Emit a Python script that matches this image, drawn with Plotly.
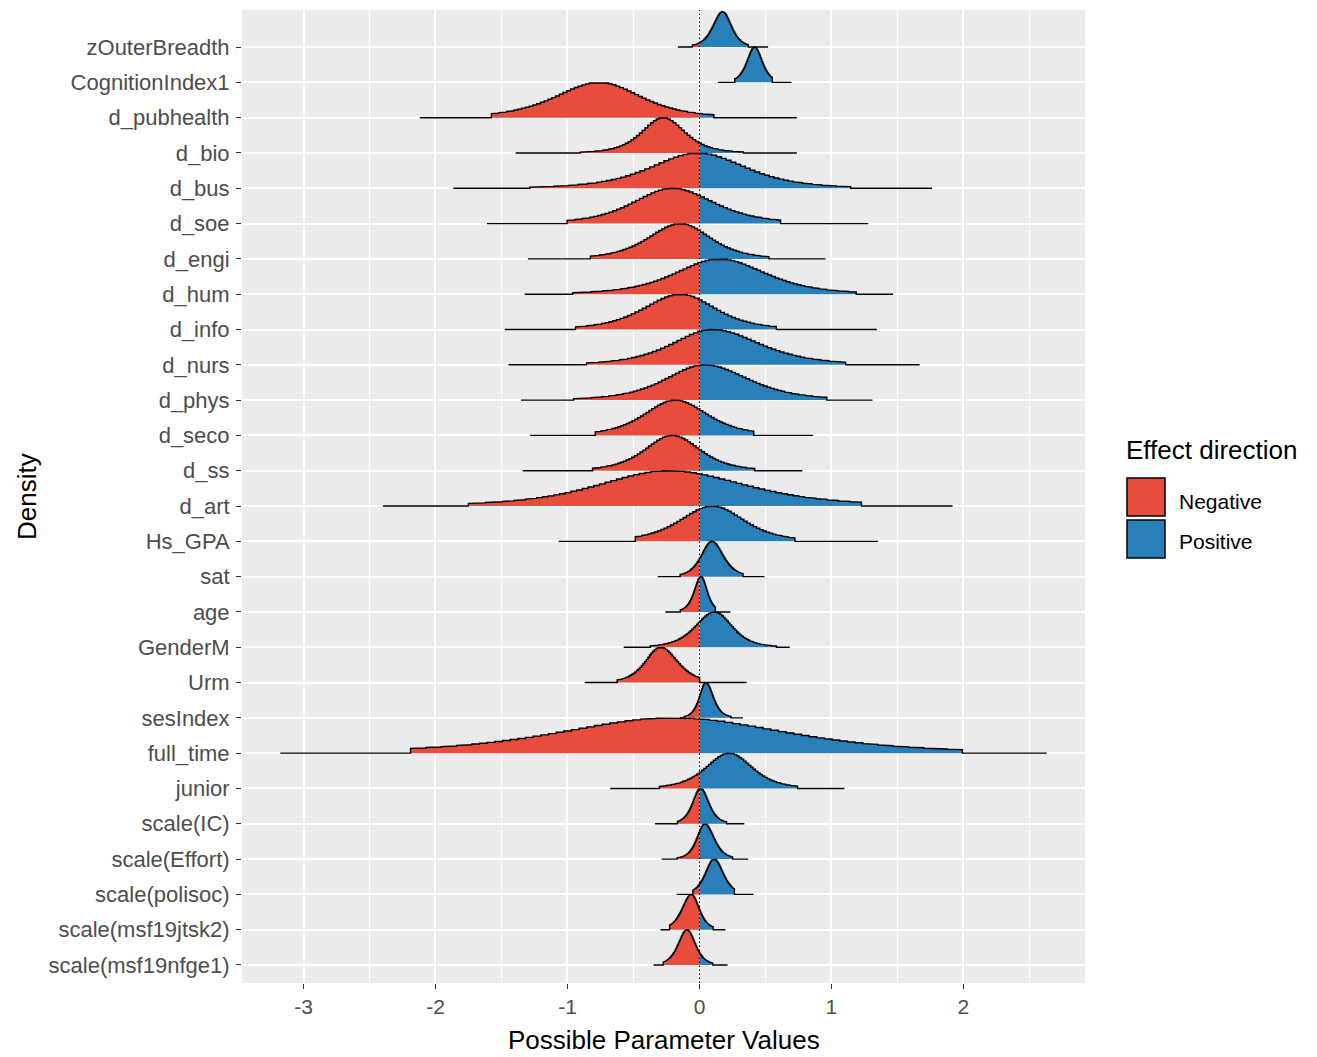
import numpy as np
import plotly.graph_objects as go

# ---------------- data ----------------
categories = ["zOuterBreadth", "CognitionIndex1", "d_pubhealth", "d_bio", "d_bus", "d_soe",
              "d_engi", "d_hum", "d_info", "d_nurs", "d_phys", "d_seco", "d_ss", "d_art",
              "Hs_GPA", "sat", "age", "GenderM", "Urm", "sesIndex", "full_time", "junior",
              "scale(IC)", "scale(Effort)", "scale(polisoc)", "scale(msf19jtsk2)",
              "scale(msf19nfge1)"]

# posterior mode of each parameter
mode = [0.176, 0.418, -0.758, -0.275, -0.010, -0.205, -0.143, 0.150, -0.143, 0.100, 0.040,
        -0.184, -0.205, -0.234, 0.100, 0.094, 0.012, 0.115, -0.295, 0.049, -0.200, 0.225,
        0.008, 0.041, 0.111, -0.061, -0.094]
# half width at half maximum, left and right of the mode
hw_left = [0.086, 0.068, 0.389, 0.190, 0.420, 0.350, 0.287, 0.390, 0.328, 0.360, 0.348,
           0.275, 0.246, 0.627, 0.290, 0.094, 0.060, 0.170, 0.135, 0.057, 1.000, 0.205,
           0.070, 0.070, 0.078, 0.082, 0.078]
hw_right = [0.078, 0.068, 0.369, 0.193, 0.420, 0.370, 0.266, 0.410, 0.310, 0.420, 0.389,
            0.287, 0.246, 0.684, 0.280, 0.102, 0.055, 0.155, 0.152, 0.066, 1.000, 0.205,
            0.074, 0.082, 0.082, 0.070, 0.074]
# shaded (inner) interval
inner_lo = [-0.057, 0.266, -1.578, -0.910, -1.270, -0.996, -0.828, -0.967, -0.934, -0.848,
            -0.943, -0.791, -0.820, -1.730, -0.492, -0.143, -0.143, -0.369, -0.627, -0.115,
            -2.180, -0.295, -0.164, -0.172, -0.049, -0.225, -0.275]
inner_hi = [0.369, 0.553, 0.115, 0.328, 1.135, 0.615, 0.525, 1.189, 0.582, 1.107, 0.963,
            0.402, 0.422, 1.217, 0.725, 0.328, 0.123, 0.586, 0.000, 0.238, 2.000, 0.738,
            0.205, 0.254, 0.266, 0.102, 0.102]
# outer interval (horizontal line)
outer_lo = [-0.164, 0.139, -2.119, -1.393, -1.865, -1.610, -1.300, -1.324, -1.475, -1.447,
            -1.352, -1.283, -1.340, -2.398, -1.066, -0.316, -0.258, -0.574, -0.869, -0.150,
            -3.176, -0.676, -0.336, -0.287, -0.172, -0.295, -0.348]
outer_hi = [0.520, 0.697, 0.738, 0.738, 1.762, 1.279, 0.955, 1.467, 1.344, 1.668, 1.311,
            0.861, 0.779, 1.918, 1.352, 0.492, 0.234, 0.684, 0.357, 0.330, 2.631, 1.098,
            0.340, 0.369, 0.410, 0.197, 0.213]

x_ticks = [-3, -2, -1, 0, 1, 2]
legend_labels = ["Negative", "Positive"]
colors = {"Negative": "#E74C3C", "Positive": "#2980B9"}

# ---------------- layout constants ----------------
W, H = 1317, 1057
PL, PR, PT, PB = 242, 1085, 10, 983
NU = 4.0
HW_FACTOR = np.sqrt(NU * (2 ** (2 / (NU + 1)) - 1))
RIDGE_H = 1.0
NBINS = 100
FONT = "Liberation Sans, Arial, sans-serif"


def px_x(px):
    return (px - PL) / (PR - PL)


def px_y(py):
    return (PB - py) / (PB - PT)


def ridge_shape(x, m, hl, hr):
    s = np.where(x < m, hl, hr) / HW_FACTOR
    z = (x - m) / s
    return (1 + z * z / NU) ** (-(NU + 1) / 2)


fig = go.Figure()
n = len(categories)
for k, cat in enumerate(categories):
    base = n - 1 - k
    edges = np.linspace(outer_lo[k], outer_hi[k], NBINS + 1)
    centers = 0.5 * (edges[:-1] + edges[1:])
    vals = ridge_shape(centers, mode[k], hw_left[k], hw_right[k])
    vals = np.where((centers >= inner_lo[k]) & (centers <= inner_hi[k]), vals, 0.0)
    px_, py_ = [edges[0]], [0.0]
    for i in range(NBINS):
        px_ += [edges[i], edges[i + 1]]
        py_ += [vals[i], vals[i]]
    px_.append(edges[-1])
    py_.append(0.0)
    px_ = np.array(px_)
    py_ = np.array(py_)
    # value at zero
    w = edges[1] - edges[0]
    if edges[0] <= 0 <= edges[-1]:
        i0 = min(int((0 - edges[0]) // w), NBINS - 1)
        v0 = vals[i0]
    else:
        v0 = 0.0
    # negative part
    if edges[0] < 0:
        m_ = px_ < 0
        xr = list(px_[m_])
        yr = list(py_[m_])
        if edges[-1] > 0:
            xr += [0, 0]
            yr += [v0, 0]
        fig.add_trace(go.Scatter(x=xr, y=base + RIDGE_H * np.array(yr), mode="lines",
                                 fill="toself", fillcolor=colors["Negative"],
                                 line=dict(width=0), hoverinfo="skip", showlegend=False))
    # positive part
    if edges[-1] > 0:
        m_ = px_ > 0
        xb = list(px_[m_])
        yb = list(py_[m_])
        if edges[0] < 0:
            xb = [0, 0] + xb
            yb = [0, v0] + yb
        fig.add_trace(go.Scatter(x=xb, y=base + RIDGE_H * np.array(yb), mode="lines",
                                 fill="toself", fillcolor=colors["Positive"],
                                 line=dict(width=0), hoverinfo="skip", showlegend=False))
    # outline + interval line
    fig.add_trace(go.Scatter(x=px_, y=base + RIDGE_H * py_, mode="lines",
                             line=dict(color="black", width=1.4), hoverinfo="skip",
                             showlegend=False, name=cat))

# zero reference line
fig.add_shape(type="line", xref="x", yref="paper", x0=0, x1=0, y0=0, y1=1,
              line=dict(color="black", width=1.1, dash="1.5px,2.5px"), layer="above")

# manual legend (ggplot style)
fig.add_annotation(xref="paper", yref="paper", x=px_x(1124), y=px_y(450),
                   text="Effect direction", showarrow=False, xanchor="left", yanchor="middle",
                   font=dict(family=FONT, size=26, color="black"))
key_rows = [(478, 516, 501), (520, 558, 541)]
for lab, (y0, y1, yt) in zip(legend_labels, key_rows):
    fig.add_shape(type="rect", xref="paper", yref="paper",
                  x0=px_x(1127), x1=px_x(1165), y0=px_y(y1), y1=px_y(y0),
                  fillcolor=colors[lab], line=dict(color="black", width=1.5))
    fig.add_annotation(xref="paper", yref="paper", x=px_x(1177), y=px_y(yt), text=lab,
                       showarrow=False, xanchor="left", yanchor="middle",
                       font=dict(family=FONT, size=21, color="black"))

# axis titles
fig.add_annotation(xref="paper", yref="paper", x=0.5, y=px_y(1040),
                   text="Possible Parameter Values", showarrow=False,
                   xanchor="center", yanchor="middle",
                   font=dict(family=FONT, size=26, color="black"))
fig.add_annotation(xref="paper", yref="paper", x=px_x(27), y=px_y(497), text="Density",
                   showarrow=False, textangle=-90, xanchor="center", yanchor="middle",
                   font=dict(family=FONT, size=26, color="black"))

fig.update_layout(
    width=W, height=H, autosize=False,
    margin=dict(l=PL, r=W - PR, t=PT, b=H - PB, pad=0),
    plot_bgcolor="#EBEBEB", paper_bgcolor="white",
    showlegend=False,
    font=dict(family=FONT),
    xaxis=dict(range=[-3.466, 2.921], tickvals=x_ticks, ticktext=[str(t) for t in x_ticks],
               showgrid=True, gridcolor="white", gridwidth=1.6, zeroline=False,
               showline=False, ticks="outside", ticklen=5, tickwidth=1.1,
               tickcolor="#333333", tickfont=dict(family=FONT, size=21, color="#4D4D4D"),
               minor=dict(dtick=0.5, tick0=0, showgrid=True, gridcolor="white",
                          gridwidth=0.8, ticks=""),
               fixedrange=True),
    yaxis=dict(range=[-0.51, 27.05], tickvals=list(range(n - 1, -1, -1)),
               ticktext=categories, showgrid=True, gridcolor="white", gridwidth=1.6,
               zeroline=False, showline=False, ticks="outside", ticklen=5, tickwidth=1.1,
               tickcolor="#333333", tickfont=dict(family=FONT, size=22, color="#4D4D4D"),
               ticklabelstandoff=2, fixedrange=True),
)

fig.write_html("out.html", config={"displayModeBar": False},
               post_script="document.body.style.margin='0';document.body.style.overflow='hidden';")
